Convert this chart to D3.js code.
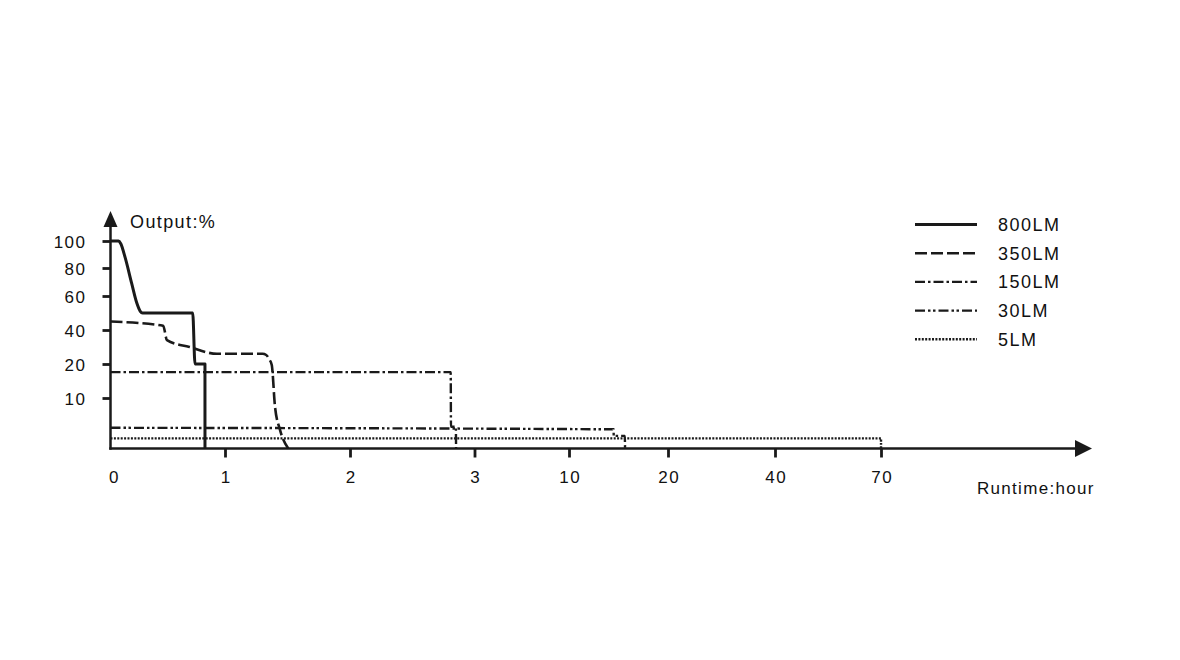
<!DOCTYPE html>
<html>
<head>
<meta charset="utf-8">
<script src="https://cdn.jsdelivr.net/npm/d3@7"></script>
<style>
  html, body { margin: 0; padding: 0; background: #fff; }
  svg { display: block; }
  text { font-family: "Liberation Sans", Arial, Helvetica, sans-serif; fill: #111; }
</style>
</head>
<body>
<svg id="chart" width="1180" height="660"></svg>
<script>
// ---- data ----
const xTickValues = [0, 1, 2, 3, 10, 20, 40, 70];          // hours (non-uniform axis)
const yTickValues = [10, 20, 40, 60, 80, 100];             // % (non-uniform axis)
const seriesNames = ["800LM", "350LM", "150LM", "30LM", "5LM"];

const s800 = [[0,100],[0.07,100],[0.09,98],[0.127,88],[0.185,69],[0.229,56],[0.26,51],[0.28,50],[0.718,50],[0.738,20],[0.825,20],[0.8252,0]];
const s350 = [[0,45],[0.46,42.5],[0.493,34],[0.69,30],[0.93,26],[1.3,26],[1.33,25.3],[1.352,23],[1.374,19.7],[1.4,8.3],[1.44,3.7],[1.506,0]];
const s150 = [[0,17.6],[2.809,17.6],[2.811,4.3],[2.85,4.3],[2.852,0]];
const s30  = [[0,4.1],[14.5,3.8],[14.52,2.5],[15.64,2.5],[15.66,0]];
const s5   = [[0,2.0],[70,2.0],[70.01,0]];
const seriesData = [s800, s350, s150, s30, s5];

// ---- styles ----
const dashes = [null, "12,4", "10,3,2.5,3", "10,3,2.5,2.5,2.5,3", "2,1.4"];
const widths = [3, 2.6, 2.4, 2.4, 2.4];
const ink = "#1a1a1a";

const svg = d3.select("#chart");

// piecewise linear scales matching the non-uniform axes
const x = d3.scaleLinear()
  .domain(xTickValues)
  .range([110.5, 225, 350, 474.5, 569, 668, 775, 881]);
const y = d3.scaleLinear()
  .domain([0, 10, 20, 40, 60, 80, 100])
  .range([448.5, 398, 364, 330, 296, 268, 241]);

// ---- series ----
const line = d3.line()
  .x(d => x(d[0]))
  .y(d => y(d[1]))
  .curve(d3.curveMonotoneX);

seriesData.forEach((s, i) => {
  svg.append("path")
    .attr("d", line(s))
    .attr("fill", "none")
    .attr("stroke", ink)
    .attr("stroke-width", widths[i])
    .attr("stroke-dasharray", dashes[i])
    .attr("stroke-linejoin", "round");
});

// ---- axes ----
const axisX0 = x(0), axisY0 = y(0);
// y axis line + arrow
svg.append("line").attr("x1", axisX0).attr("x2", axisX0)
  .attr("y1", axisY0 + 1.2).attr("y2", 224)
  .attr("stroke", ink).attr("stroke-width", 2.5);
svg.append("path")
  .attr("d", `M${axisX0},211 L${axisX0 + 7},227 L${axisX0 - 7},227 Z`)
  .attr("fill", ink);
// x axis line + arrow
svg.append("line").attr("x1", axisX0 - 1.2).attr("x2", 1077)
  .attr("y1", axisY0).attr("y2", axisY0)
  .attr("stroke", ink).attr("stroke-width", 2.5);
svg.append("path")
  .attr("d", `M1092,${axisY0} L1075,${axisY0 - 8.5} L1075,${axisY0 + 8.5} Z`)
  .attr("fill", ink);

// y ticks
const gy = svg.append("g").attr("transform", `translate(${axisX0},0)`)
  .call(d3.axisLeft(y).tickValues(yTickValues).tickSize(8).tickSizeOuter(0).tickPadding(16));
gy.select(".domain").remove();
gy.selectAll(".tick line").attr("stroke", ink).attr("stroke-width", 2.8);
gy.selectAll(".tick text")
  .attr("font-size", 17).attr("font-family", null)
  .attr("letter-spacing", 1.5).attr("fill", "#111").attr("dy", "0.36em");

// x ticks
const gx = svg.append("g").attr("transform", `translate(0,${axisY0})`)
  .call(d3.axisBottom(x).tickValues(xTickValues).tickFormat(d3.format("d")).tickSize(9).tickSizeOuter(0).tickPadding(19));
gx.select(".domain").remove();
gx.selectAll(".tick line").attr("stroke", ink).attr("stroke-width", 2.8)
  .filter(d => d === 0).remove();
gx.selectAll(".tick text")
  .attr("font-size", 17).attr("font-family", null)
  .attr("letter-spacing", 1.5).attr("fill", "#111").attr("dy", "0.36em")
  .attr("dx", 0.7);
gx.selectAll(".tick").filter(d => d === 0).select("text").attr("dx", 3.5);

// axis titles
svg.append("text").attr("x", 130).attr("y", 228)
  .attr("font-size", 18).attr("letter-spacing", 1.4).text("Output:%");
svg.append("text").attr("x", 977).attr("y", 494)
  .attr("font-size", 17).attr("letter-spacing", 1.3).text("Runtime:hour");

// ---- legend ----
const lg = svg.append("g");
seriesNames.forEach((name, i) => {
  const ly = 224.5 + i * 28.7;
  lg.append("line").attr("x1", 915).attr("x2", 977).attr("y1", ly).attr("y2", ly)
    .attr("stroke", ink).attr("stroke-width", widths[i])
    .attr("stroke-dasharray", dashes[i]);
  lg.append("text").attr("x", 998).attr("y", ly).attr("dy", "0.36em")
    .attr("font-size", 18).attr("letter-spacing", 1.5).text(name);
});
</script>
</body>
</html>
